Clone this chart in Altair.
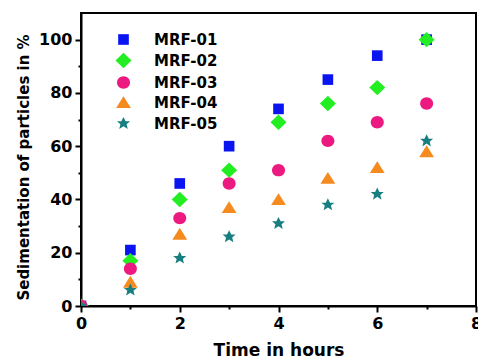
import altair as alt
import pandas as pd

hours = [0, 1, 2, 3, 4, 5, 6, 7]
series = ["MRF-01", "MRF-02", "MRF-03", "MRF-04", "MRF-05"]
mrf01 = [0, 21, 46, 60, 74, 85, 94, 100]
mrf02 = [0, 17, 40, 51, 69, 76, 82, 100]
mrf03 = [0, 14, 33, 46, 51, 62, 69, 76]
mrf04 = [0, 9, 27, 37, 40, 48, 52, 58]
mrf05 = [0, 6, 18, 26, 31, 38, 42, 62]
colors = ["#0A14F0", "#22EE22", "#EC1A80", "#F58A1F", "#177F80"]
shapes = [
    "M-0.9,-0.9L0.9,-0.9L0.9,0.9L-0.9,0.9Z",
    "M0,-1.3L1.35,0L0,1.3L-1.35,0Z",
    "M-1.1,0A1.1,1.05,0,1,0,1.1,0A1.1,1.05,0,1,0,-1.1,0Z",
    "M0,-1.05L1.25,0.95L-1.25,0.95Z",
    "M-1.1,-0.36L-0.36,-0.36L0,-1.1L0.36,-0.36L1.1,-0.36L0.52,0.14L0.72,0.94L0,0.46L-0.72,0.94L-0.52,0.14Z",
]

rows = []
for name, vals in zip(series, [mrf01, mrf02, mrf03, mrf04, mrf05]):
    for h, v in zip(hours, vals):
        rows.append({"Time": h, "Sed": v, "Series": name, "order": series.index(name)})
df = pd.DataFrame(rows)

FONT = "DejaVu Sans"
xscale = alt.Scale(domain=[0, 8], nice=False)
yscale = alt.Scale(domain=[0, 110], nice=False)

points = alt.Chart(df).mark_point(filled=True, opacity=1, size=140, clip=True).encode(
    x=alt.X("Time:Q", scale=xscale,
            axis=alt.Axis(orient="bottom", values=[0, 2, 4, 6, 8], title="Time in hours",
                          grid=False, tickSize=6, tickWidth=2, domainWidth=2, domainColor="black",
                          tickColor="black", labelFont=FONT, labelFontSize=16, labelFontWeight="bold",
                          labelColor="black", titleFont=FONT, titleFontSize=17, titleFontWeight="bold",
                          titleColor="black", titlePadding=11, labelPadding=3, labelFlush=False)),
    y=alt.Y("Sed:Q", scale=yscale,
            axis=alt.Axis(orient="left", values=[0, 20, 40, 60, 80, 100],
                          title="Sedimentation of particles in %",
                          grid=False, tickSize=6, tickWidth=2, domainWidth=2, domainColor="black",
                          tickColor="black", labelFont=FONT, labelFontSize=16, labelFontWeight="bold",
                          labelColor="black", titleFont=FONT, titleFontSize=15, titleFontWeight="bold",
                          titleColor="black", titlePadding=7, labelPadding=3, titleY=154)),
    color=alt.Color("Series:N", scale=alt.Scale(domain=series, range=colors),
                    legend=alt.Legend(title=None, orient="none", legendX=35, legendY=19,
                                      labelFont=FONT, labelFontSize=15, labelFontWeight="bold",
                                      labelColor="black", symbolSize=140, rowPadding=1,
                                      labelOffset=23, symbolOpacity=1)),
    shape=alt.Shape("Series:N", scale=alt.Scale(domain=series, range=shapes)),
    order=alt.Order("order:Q"),
)

minor = alt.Chart(df).mark_point(opacity=0).encode(
    x=alt.X("Time:Q", scale=xscale,
            axis=alt.Axis(orient="bottom", values=[1, 3, 5, 7], labels=False, domain=False,
                          title=None, grid=False, tickSize=3, tickWidth=2, tickColor="black")),
    y=alt.Y("Sed:Q", scale=yscale,
            axis=alt.Axis(orient="left", values=[10, 30, 50, 70, 90], labels=False, domain=False,
                          title=None, grid=False, tickSize=3, tickWidth=2, tickColor="black")),
)

chart = alt.layer(points, minor).resolve_axis(x="independent", y="independent").properties(
    width=395, height=293,
    autosize=alt.AutoSizeParams(type="none"),
    padding={"left": 81, "top": 13, "right": 2, "bottom": 55},
    background="white",
).configure_view(stroke="black", strokeWidth=2)

chart.save("out.html", embed_options={"renderer": "svg", "actions": False})
